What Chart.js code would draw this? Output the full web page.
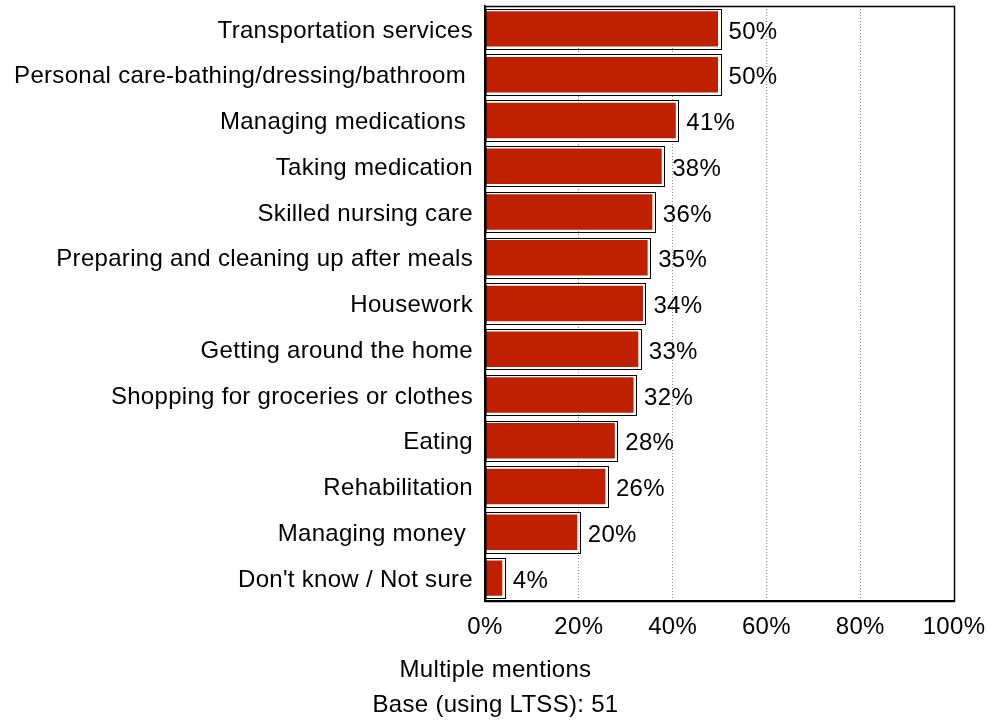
<!DOCTYPE html>
<html>
<head>
<meta charset="utf-8">
<script src="https://cdn.jsdelivr.net/npm/chart.js@4.4.1/dist/chart.umd.min.js"></script>
<style>
  html, body { margin: 0; padding: 0; background: #fff; }
  #wrap { width: 987px; height: 721px; }
</style>
</head>
<body>
<div id="wrap"><canvas id="chart"></canvas></div>
<script>
const categories = [
    'Transportation services',
    'Personal care-bathing/dressing/bathroom ',
    'Managing medications ',
    'Taking medication',
    'Skilled nursing care',
    'Preparing and cleaning up after meals',
    'Housework',
    'Getting around the home',
    'Shopping for groceries or clothes',
    'Eating',
    'Rehabilitation',
    'Managing money ',
    "Don't know / Not sure"
];
const values = [50, 50, 41, 38, 36, 35, 34, 33, 32, 28, 26, 20, 4];
const xTicks = [0, 20, 40, 60, 80, 100];
const footnotes = ['Multiple mentions', 'Base (using LTSS): 51'];

const FONT = "'Liberation Sans', Arial, sans-serif";
const FONT_SIZE = 24;

// slightly wider text, like the original renderer
const spacing = {
    id: 'spacing',
    beforeDraw(chart) {
        if ('letterSpacing' in chart.ctx) chart.ctx.letterSpacing = '0.3px';
    }
};

// black outline around each bar, plus the plot frame
const barOutline = {
    id: 'barOutline',
    afterDatasetsDraw(chart) {
        const ctx = chart.ctx;
        const meta = chart.getDatasetMeta(0);
        ctx.save();
        ctx.setLineDash([]);
        ctx.strokeStyle = '#000';
        ctx.lineWidth = 1;
        meta.data.forEach(function (bar) {
            const p = bar.getProps(['x', 'y', 'base', 'height'], true);
            const left = Math.round(p.base);
            const right = Math.round(p.x) + 1.5;
            const top = Math.round(p.y - p.height / 2) - 0.5;
            const bottom = Math.round(p.y + p.height / 2) + 1.5;
            ctx.strokeRect(left, top, right - left, bottom - top);
        });
        const a = chart.chartArea;
        ctx.lineWidth = 1.5;
        ctx.strokeRect(Math.round(a.left) + 0.5, Math.round(a.top) + 0.5,
            Math.round(a.right - a.left), Math.round(a.bottom - a.top));
        ctx.restore();
    }
};

// value labels at the end of the bars
const valueLabels = {
    id: 'valueLabels',
    afterDraw(chart) {
        const ctx = chart.ctx;
        const meta = chart.getDatasetMeta(0);
        ctx.save();
        ctx.font = FONT_SIZE + 'px ' + FONT;
        ctx.fillStyle = '#000';
        ctx.textAlign = 'left';
        ctx.textBaseline = 'middle';
        meta.data.forEach(function (bar, i) {
            ctx.fillText(values[i] + '%', bar.x + 9, bar.y + 3);
        });
        ctx.restore();
    }
};

// two lines of notes under the axis
const notes = {
    id: 'notes',
    afterDraw(chart) {
        const ctx = chart.ctx;
        ctx.save();
        ctx.font = FONT_SIZE + 'px ' + FONT;
        ctx.fillStyle = '#000';
        ctx.textAlign = 'center';
        ctx.textBaseline = 'alphabetic';
        const cx = chart.width / 2 + 2;
        ctx.fillText(footnotes[0], cx, chart.chartArea.bottom + 76);
        ctx.fillText(footnotes[1], cx, chart.chartArea.bottom + 111);
        ctx.restore();
    }
};

new Chart(document.getElementById('chart').getContext('2d'), {
    type: 'bar',
    data: {
        labels: categories,
        datasets: [{
            data: values,
            backgroundColor: '#BF2000',
            borderColor: '#ffffff',
            borderWidth: 1.5,
            borderSkipped: 'start',
            barPercentage: 0.84,
            categoryPercentage: 1
        }]
    },
    options: {
        indexAxis: 'y',
        responsive: true,
        maintainAspectRatio: false,
        animation: false,
        layout: { padding: { top: 6, right: 33, bottom: 0, left: 0 } },
        plugins: {
            legend: { display: false },
            tooltip: { enabled: false },
            title: { display: false }
        },
        scales: {
            x: {
                min: 0,
                max: 100,
                afterBuildTicks: function (scale) {
                    scale.ticks = xTicks.map(function (v) { return { value: v }; });
                },
                afterFit: function (scale) {
                    scale.height = 120;
                    scale.paddingLeft = 0;
                    scale.paddingRight = 0;
                },
                ticks: {
                    color: '#000',
                    font: { family: FONT, size: FONT_SIZE },
                    padding: 12,
                    callback: function (v) { return v + '%'; }
                },
                grid: {
                    color: '#8c8c8c',
                    lineWidth: 1,
                    drawTicks: false
                },
                border: { display: true, color: '#000', width: 1.5, dash: [1, 2] }
            },
            y: {
                afterFit: function (scale) {
                    scale.width = 485;
                    scale.paddingTop = 0;
                    scale.paddingBottom = 0;
                },
                ticks: {
                    color: '#000',
                    font: { family: FONT, size: FONT_SIZE },
                    padding: 12,
                    labelOffset: 2
                },
                grid: { display: false, drawTicks: false },
                border: { display: true, color: '#000', width: 1.5 }
            }
        }
    },
    plugins: [spacing, barOutline, valueLabels, notes]
});
</script>
</body>
</html>
